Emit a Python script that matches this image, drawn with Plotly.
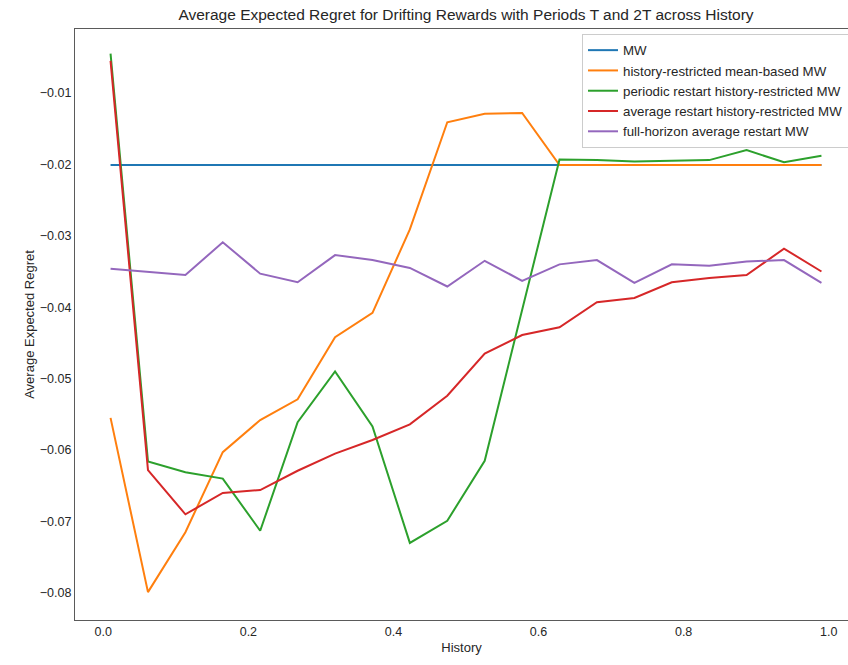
import plotly.graph_objects as go

history = [0.01, 0.0616, 0.1132, 0.1647, 0.2163, 0.2679, 0.3195, 0.3711, 0.4226, 0.4742,
           0.5258, 0.5774, 0.6289, 0.6805, 0.7321, 0.7837, 0.8353, 0.8868, 0.9384, 0.99]

mw = [-0.0201] * 20
hist_restricted = [-0.0555, -0.0799, -0.0715, -0.0603, -0.0558, -0.0529, -0.0442, -0.0408, -0.0291, -0.0141,
                   -0.0129, -0.0128, -0.0201, -0.0201, -0.0201, -0.0201, -0.0201, -0.0201, -0.0201, -0.0201]
periodic_restart = [-0.0045, -0.0616, -0.0631, -0.0640, -0.0713, -0.0561, -0.0490, -0.0567, -0.0730, -0.0699,
                    -0.0615, -0.0403, -0.0193, -0.0194, -0.0196, -0.0195, -0.0194, -0.0180, -0.0197, -0.0188]
average_restart = [-0.0055, -0.0628, -0.0690, -0.0660, -0.0656, -0.0629, -0.0605, -0.0586, -0.0564, -0.0524,
                   -0.0465, -0.0439, -0.0428, -0.0393, -0.0387, -0.0365, -0.0359, -0.0355, -0.0318, -0.0350]
full_horizon = [-0.0346, -0.0351, -0.0355, -0.0309, -0.0353, -0.0365, -0.0327, -0.0334, -0.0345, -0.0371,
                -0.0335, -0.0363, -0.0340, -0.0334, -0.0366, -0.0340, -0.0342, -0.0336, -0.0334, -0.0366]

names = ["MW", "history-restricted mean-based MW", "periodic restart history-restricted MW",
         "average restart history-restricted MW", "full-horizon average restart MW"]
colors = ["#1f77b4", "#ff7f0e", "#2ca02c", "#d62728", "#9467bd"]
series = [mw, hist_restricted, periodic_restart, average_restart, full_horizon]

y_ticks = [-0.08, -0.07, -0.06, -0.05, -0.04, -0.03, -0.02, -0.01]
x_ticks = [0.0, 0.2, 0.4, 0.6, 0.8, 1.0]

FONT = "Liberation Sans, Arial, sans-serif"
W, H = 848, 665

fig = go.Figure()
for name, col, ys in zip(names, colors, series):
    fig.add_trace(go.Scatter(x=history, y=ys, mode="lines", name=name,
                             line=dict(color=col, width=2)))

fig.update_layout(
    template="none",
    width=W, height=H,
    margin=dict(l=75, r=0, t=29, b=45, pad=0, autoexpand=False),
    paper_bgcolor="white", plot_bgcolor="white",
    font=dict(family=FONT, size=12, color="#262626"),
    title=dict(text="Average Expected Regret for Drifting Rewards with Periods T and 2T across History",
               x=466 / W, xanchor="center", y=1 - 15 / H, yanchor="middle",
               font=dict(size=15.5, color="#262626")),
    legend=dict(xref="container", yref="container", x=582 / W, y=1 - 34 / H,
                xanchor="left", yanchor="top",
                bgcolor="rgba(255,255,255,0.85)", bordercolor="#cccccc", borderwidth=1,
                font=dict(size=13.3, color="#262626"), itemwidth=30, tracegroupgap=0),
    showlegend=True,
)
fig.update_xaxes(range=[-0.039, 1.0266], tickvals=x_ticks, tickformat=".1f", automargin=False,
                 showgrid=False, zeroline=False, showline=True, linecolor="#5a5a5a", linewidth=1.2,
                 mirror=True, ticks="", title=dict(text="History", standoff=4, font=dict(size=13)),
                 tickfont=dict(size=12.5))
fig.update_yaxes(range=[-0.0838, -0.00104], tickvals=y_ticks, tickformat=".2f", automargin=False,
                 showgrid=False, zeroline=False, showline=True, linecolor="#5a5a5a", linewidth=1.2,
                 mirror=False, ticks="", title=dict(text="Average Expected Regret", standoff=2, font=dict(size=13)),
                 tickfont=dict(size=12.5))

fig.write_html(
    "out.html",
    config={"displayModeBar": False, "responsive": False},
    post_script=(
        "document.body.style.margin='0';document.body.style.overflow='hidden';"
        "document.documentElement.style.overflow='hidden';"
    ),
)
